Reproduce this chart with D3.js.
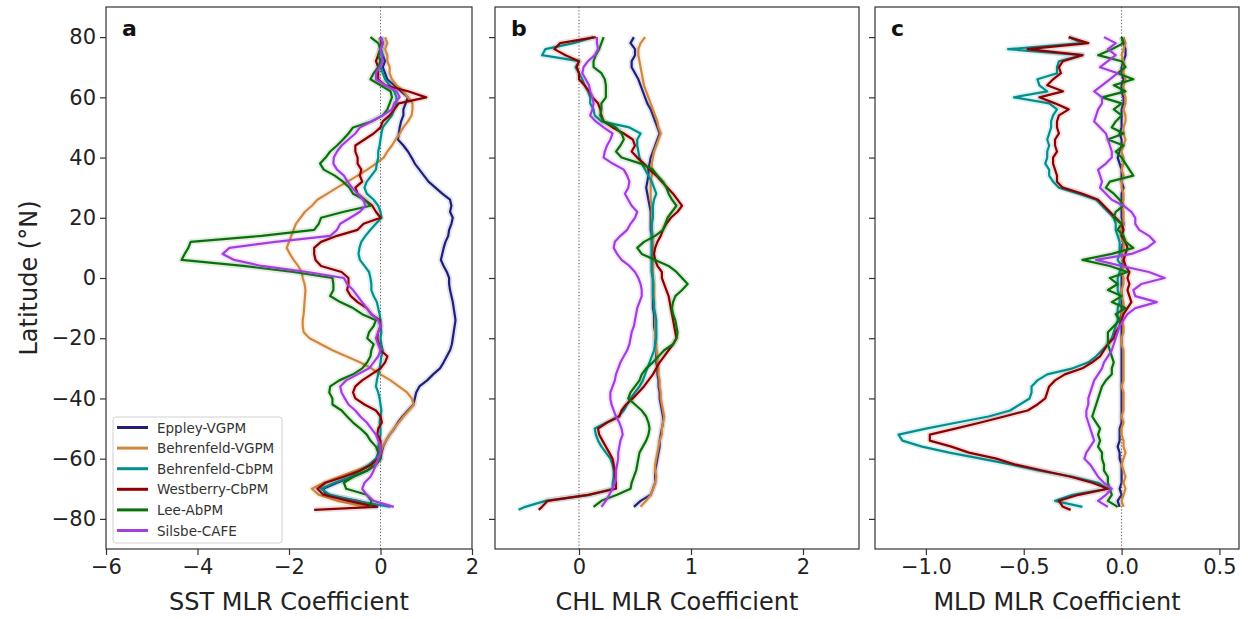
<!DOCTYPE html>
<html>
<head>
<meta charset="utf-8">
<script src="https://cdn.jsdelivr.net/npm/d3@7"></script>
<style>
  body { margin: 0; background: #fff; }
  svg { font-family: "DejaVu Sans", sans-serif; }
</style>
</head>
<body>
<svg id="chart" width="1248" height="619"></svg>
<script>
// latitude of every sample, north to south (deg N)
var lat = [80, 78, 76, 74, 72, 70, 68, 66, 64, 62,
           60, 58, 56, 54, 52, 50, 48, 46, 44, 42,
           40, 38, 36, 34, 32, 30, 28, 26, 24, 22,
           20, 18, 16, 14, 12, 10, 8, 6, 4, 2,
           0, -2, -4, -6, -8, -10, -12, -14, -16, -18,
           -20, -22, -24, -26, -28, -30, -32, -34, -36, -38,
           -40, -42, -44, -46, -48, -50, -52, -54, -56, -58,
           -60, -62, -64, -66, -68, -70, -72, -74, -76, -77];

var models = ["Eppley-VGPM", "Behrenfeld-VGPM", "Behrenfeld-CbPM", "Westberry-CbPM", "Lee-AbPM", "Silsbe-CAFE"];
var modelColors = ["#1f1f7a", "#d0883f", "#00908e", "#8b0000", "#0a700a", "#a33fe0"];

// ---- SST coefficients (panel a)
var sstEppley = [0.0, 0.05, 0.0, 0.05, 0.1, 0.05, 0.1, 0.15, 0.3, 0.45,
  0.6, 0.55, 0.5, 0.5, 0.45, 0.42, 0.4, 0.38, 0.5, 0.6,
  0.68, 0.75, 0.85, 0.95, 1.05, 1.2, 1.35, 1.52, 1.55, 1.52,
  1.58, 1.55, 1.5, 1.48, 1.42, 1.38, 1.35, 1.32, 1.38, 1.45,
  1.5, 1.5, 1.52, 1.55, 1.58, 1.6, 1.62, 1.64, 1.62, 1.6,
  1.58, 1.56, 1.52, 1.45, 1.38, 1.3, 1.15, 1.02, 0.85, 0.78,
  0.75, 0.72, 0.6, 0.48, 0.38, 0.3, 0.2, 0.12, 0.06, 0.02,
  0.0, -0.1, -0.3, -0.6, -0.95, -1.25, -1.2, -0.5, -0.05, null];
var sstBehrenfeldV = [0.1, 0.15, 0.1, 0.15, 0.15, 0.2, 0.2, 0.25, 0.35, 0.5,
  0.6, 0.7, 0.7, 0.68, 0.6, 0.5, 0.42, 0.33, 0.25, 0.15,
  0.07, -0.1, -0.29, -0.5, -0.72, -0.95, -1.16, -1.38, -1.5, -1.65,
  -1.75, -1.85, -1.9, -1.95, -2.0, -2.05, -1.98, -1.9, -1.8, -1.72,
  -1.7, -1.66, -1.64, -1.65, -1.66, -1.67, -1.68, -1.7, -1.7, -1.68,
  -1.55, -1.3, -1.05, -0.75, -0.45, -0.2, 0.0, 0.22, 0.4, 0.58,
  0.68, 0.73, 0.62, 0.5, 0.4, 0.29, 0.2, 0.12, 0.05, 0.0,
  -0.03, -0.2, -0.55, -0.9, -1.24, -1.5, -1.35, -0.95, -0.3, null];
var sstBehrenfeldC = [0.0, 0.05, 0.0, 0.05, 0.0, 0.0, 0.05, 0.1, 0.2, 0.3,
  0.35, 0.35, 0.3, 0.25, 0.15, 0.05, 0.02, 0.0, -0.02, -0.05,
  -0.05, -0.08, -0.1, -0.2, -0.3, -0.35, -0.3, -0.15, -0.05, 0.0,
  0.02, -0.1, -0.22, -0.33, -0.42, -0.46, -0.48, -0.45, -0.35, -0.25,
  -0.22, -0.2, -0.2, -0.15, -0.08, -0.05, -0.02, 0.0, 0.0, 0.02,
  0.0, 0.02, 0.05, 0.02, 0.0, -0.02, -0.05, -0.08, -0.1, -0.05,
  -0.02, 0.0, 0.02, 0.0, -0.02, 0.0, 0.0, -0.02, -0.05, -0.05,
  -0.1, -0.25, -0.45, -0.65, -1.0, -1.3, -1.1, -0.55, 0.22, null];
var sstWestberry = [0.0, 0.02, 0.0, -0.05, -0.1, -0.05, -0.05, -0.05, 0.1, 0.6,
  1.0, 0.4, 0.3, 0.2, 0.05, 0.0, -0.15, -0.35, -0.55, -0.55,
  -0.5, -0.5, -0.42, -0.45, -0.4, -0.55, -0.5, -0.35, -0.18, -0.1,
  0.0, -0.37, -0.5, -0.95, -1.3, -1.45, -1.45, -1.42, -1.3, -0.85,
  -0.7, -0.7, -0.73, -0.65, -0.5, -0.3, -0.2, -0.02, 0.0, -0.05,
  -0.07, -0.03, 0.0, 0.15, 0.1, 0.0, -0.2, -0.4, -0.55, -0.6,
  -0.55, -0.35, -0.1, 0.0, 0.03, -0.05, -0.07, 0.0, 0.0, 0.0,
  -0.05, -0.2, -0.45, -0.8, -1.2, -1.38, -1.25, -0.7, -0.1, -1.45];
var sstLee = [-0.22, -0.05, 0.0, -0.05, 0.0, -0.05, -0.15, -0.22, 0.0, 0.22,
  0.25, 0.2, 0.15, 0.05, -0.2, -0.6, -0.7, -0.82, -0.95, -1.1,
  -1.2, -1.32, -1.24, -1.0, -0.82, -0.68, -0.6, -0.35, -0.22, -0.8,
  -1.3, -1.35, -1.45, -2.6, -4.15, -4.2, -4.28, -4.35, -3.0, -1.9,
  -1.05, -1.03, -1.03, -1.1, -0.88, -0.6, -0.4, -0.1, -0.15, -0.25,
  -0.29, -0.15, -0.2, -0.22, -0.29, -0.4, -0.6, -0.9, -1.1, -1.12,
  -1.05, -1.05, -0.85, -0.73, -0.6, -0.44, -0.3, -0.22, -0.1, -0.05,
  0.0, -0.1, -0.3, -0.6, -0.8, -0.75, -0.3, -0.2, -0.22, null];
var sstSilsbe = [0.0, 0.05, 0.0, 0.02, 0.05, -0.02, -0.1, -0.1, 0.1, 0.35,
  0.42, 0.3, 0.25, 0.05, -0.2, -0.45, -0.55, -0.7, -0.85, -0.95,
  -1.02, -1.03, -0.95, -0.8, -0.72, -0.62, -0.5, -0.38, -0.33, -0.45,
  -0.66, -0.88, -0.95, -1.1, -2.3, -3.3, -3.45, -3.2, -2.6, -1.6,
  -0.8, -0.73, -0.6, -0.5, -0.4, -0.3, -0.2, -0.05, 0.0, -0.05,
  -0.1, -0.05, 0.0, -0.05, -0.15, -0.25, -0.5, -0.75, -0.88, -0.85,
  -0.78, -0.7, -0.55, -0.44, -0.3, -0.2, -0.1, -0.05, 0.0, 0.0,
  -0.05, -0.1, -0.15, -0.22, -0.35, -0.4, -0.3, -0.15, 0.29, null];

// ---- CHL coefficients (panel b)
var chlEppley = [0.49, 0.46, 0.5, 0.5, 0.47, 0.47, 0.5, 0.53, 0.55, 0.57,
  0.59, 0.61, 0.64, 0.66, 0.68, 0.7, 0.72, 0.7, 0.68, 0.66,
  0.64, 0.63, 0.62, 0.62, 0.61, 0.6, 0.61, 0.62, 0.63, 0.64,
  0.64, 0.64, 0.64, 0.65, 0.65, 0.65, 0.65, 0.65, 0.65, 0.65,
  0.66, 0.66, 0.66, 0.66, 0.66, 0.66, 0.67, 0.67, 0.67, 0.68,
  0.68, 0.68, 0.69, 0.69, 0.69, 0.7, 0.7, 0.71, 0.71, 0.72,
  0.72, 0.73, 0.74, 0.75, 0.75, 0.74, 0.73, 0.72, 0.72, 0.71,
  0.7, 0.69, 0.68, 0.68, 0.68, 0.66, 0.64, 0.55, 0.49, null];
var chlBehrenfeldV = [0.59, 0.55, 0.53, 0.53, 0.54, 0.55, 0.56, 0.57, 0.58, 0.6,
  0.62, 0.64, 0.66, 0.68, 0.7, 0.71, 0.73, 0.71, 0.69, 0.67,
  0.66, 0.65, 0.65, 0.65, 0.64, 0.64, 0.64, 0.64, 0.65, 0.65,
  0.65, 0.65, 0.65, 0.66, 0.66, 0.66, 0.66, 0.66, 0.66, 0.66,
  0.66, 0.67, 0.67, 0.67, 0.67, 0.67, 0.68, 0.68, 0.68, 0.68,
  0.68, 0.69, 0.69, 0.7, 0.7, 0.71, 0.71, 0.72, 0.72, 0.73,
  0.73, 0.74, 0.75, 0.76, 0.75, 0.74, 0.74, 0.72, 0.71, 0.7,
  0.69, 0.68, 0.68, 0.69, 0.68, 0.66, 0.64, 0.6, 0.55, null];
var chlBehrenfeldC = [0.13, -0.05, -0.3, -0.33, 0.0, -0.03, 0.0, 0.03, 0.05, 0.08,
  0.1, 0.1, 0.13, 0.14, 0.2, 0.45, 0.55, 0.52, 0.52, 0.53,
  0.54, 0.56, 0.59, 0.62, 0.65, 0.67, 0.69, 0.67, 0.66, 0.66,
  0.66, 0.65, 0.65, 0.65, 0.65, 0.65, 0.65, 0.65, 0.65, 0.65,
  0.66, 0.66, 0.66, 0.66, 0.67, 0.67, 0.68, 0.69, 0.69, 0.69,
  0.69, 0.68, 0.67, 0.65, 0.63, 0.61, 0.59, 0.57, 0.54, 0.5,
  0.46, 0.43, 0.4, 0.35, 0.25, 0.14, 0.15, 0.17, 0.2, 0.24,
  0.28, 0.3, 0.31, 0.31, 0.3, 0.3, 0.1, -0.3, -0.48, -0.54];
var chlWestberry = [0.15, -0.17, -0.22, -0.12, 0.0, -0.02, 0.0, 0.0, 0.05, 0.09,
  0.12, 0.17, 0.19, 0.2, 0.22, 0.3, 0.4, 0.48, 0.5, 0.47,
  0.52, 0.58, 0.63, 0.69, 0.74, 0.79, 0.84, 0.88, 0.92, 0.88,
  0.82, 0.78, 0.75, 0.73, 0.7, 0.68, 0.67, 0.68, 0.7, 0.74,
  0.74, 0.76, 0.78, 0.8, 0.81, 0.82, 0.83, 0.84, 0.85, 0.86,
  0.87, 0.84, 0.8, 0.76, 0.72, 0.69, 0.66, 0.62, 0.58, 0.53,
  0.48, 0.42, 0.38, 0.36, 0.25, 0.17, 0.18, 0.21, 0.24, 0.27,
  0.3, 0.31, 0.32, 0.32, 0.33, 0.33, 0.08, -0.28, -0.33, -0.36];
var chlLee = [0.22, 0.2, 0.18, 0.15, 0.13, 0.13, 0.2, 0.23, 0.24, 0.24,
  0.24, 0.2, 0.2, 0.19, 0.22, 0.33, 0.38, 0.4, 0.37, 0.33,
  0.38, 0.55, 0.66, 0.7, 0.75, 0.78, 0.8, 0.83, 0.87, 0.83,
  0.79, 0.77, 0.75, 0.68, 0.58, 0.52, 0.56, 0.68, 0.8, 0.87,
  0.92, 0.97, 0.92, 0.86, 0.84, 0.83, 0.84, 0.86, 0.87, 0.88,
  0.87, 0.84, 0.76, 0.71, 0.66, 0.6, 0.56, 0.54, 0.5, 0.46,
  0.44, 0.5, 0.56, 0.6, 0.62, 0.63, 0.62, 0.6, 0.57, 0.54,
  0.53, 0.52, 0.51, 0.49, 0.47, 0.46, 0.34, 0.2, 0.13, null];
var chlSilsbe = [0.16, 0.16, 0.17, 0.14, 0.08, 0.04, 0.03, 0.06, 0.09, 0.1,
  0.12, 0.13, 0.12, 0.1, 0.15, 0.22, 0.3, 0.28, 0.25, 0.23,
  0.22, 0.3, 0.4, 0.43, 0.45, 0.44, 0.41, 0.44, 0.47, 0.52,
  0.5, 0.46, 0.43, 0.37, 0.32, 0.31, 0.34, 0.38, 0.45, 0.5,
  0.53, 0.55, 0.56, 0.56, 0.54, 0.52, 0.51, 0.5, 0.49, 0.47,
  0.46, 0.45, 0.43, 0.4, 0.37, 0.35, 0.33, 0.32, 0.3, 0.28,
  0.28, 0.29, 0.31, 0.33, 0.36, 0.38, 0.39, 0.37, 0.36, 0.35,
  0.35, 0.34, 0.33, 0.33, 0.32, 0.3, 0.27, 0.24, 0.2, null];

// ---- MLD coefficients (panel c)
var mldEppley = [0.0, 0.01, 0.02, 0.02, 0.01, 0.0, 0.0, 0.01, 0.0, 0.0,
  0.01, 0.01, 0.0, 0.0, 0.0, 0.0, -0.01, 0.0, 0.0, -0.01,
  -0.02, -0.01, 0.0, 0.0, 0.0, 0.01, 0.0, 0.0, 0.0, 0.0,
  0.0, 0.01, 0.0, 0.0, 0.01, 0.0, 0.0, 0.01, 0.0, 0.0,
  0.0, 0.0, 0.0, 0.0, 0.0, 0.0, 0.0, -0.01, 0.0, 0.0,
  0.0, 0.0, 0.0, 0.0, 0.0, 0.0, 0.0, 0.0, 0.0, 0.0,
  0.0, 0.0, 0.0, 0.0, 0.0, -0.01, -0.01, -0.01, -0.02, -0.01,
  -0.01, 0.0, 0.0, 0.0, 0.0, -0.01, 0.0, -0.02, -0.01, null];
var mldBehrenfeldV = [0.01, 0.02, 0.01, 0.0, 0.01, 0.01, 0.01, 0.02, 0.01, 0.01,
  0.02, 0.02, 0.01, 0.02, 0.02, 0.01, 0.01, 0.02, 0.01, 0.0,
  0.01, 0.01, 0.0, 0.01, 0.0, 0.0, 0.01, 0.01, 0.0, 0.01,
  0.01, 0.01, 0.0, 0.0, 0.01, 0.01, 0.0, 0.01, 0.01, 0.0,
  0.01, 0.01, 0.0, 0.0, 0.01, 0.01, 0.0, 0.0, 0.01, 0.01,
  0.0, 0.0, 0.01, 0.01, 0.01, 0.01, 0.01, 0.01, 0.0, 0.01,
  0.01, 0.01, 0.01, 0.0, 0.01, 0.0, 0.0, 0.01, 0.01, 0.02,
  0.01, 0.0, 0.01, 0.02, 0.01, 0.02, 0.01, 0.0, 0.01, null];
var mldBehrenfeldC = [-0.27, -0.2, -0.58, -0.2, -0.32, -0.33, -0.33, -0.43, -0.42, -0.38,
  -0.55, -0.37, -0.33, -0.35, -0.36, -0.36, -0.37, -0.38, -0.37, -0.38,
  -0.38, -0.39, -0.37, -0.37, -0.35, -0.32, -0.22, -0.13, -0.1, -0.07,
  -0.04, -0.03, -0.03, -0.02, -0.01, -0.01, -0.01, -0.02, 0.0, -0.01,
  -0.02, -0.02, -0.02, -0.01, -0.01, -0.02, -0.02, -0.02, -0.03, -0.04,
  -0.05, -0.07, -0.1, -0.13, -0.17, -0.25, -0.38, -0.43, -0.46, -0.46,
  -0.47, -0.52, -0.57, -0.68, -0.84, -1.0, -1.14, -1.12, -1.02, -0.88,
  -0.72, -0.56, -0.42, -0.25, -0.12, -0.07, -0.25, -0.34, -0.2, null];
var mldWestberry = [-0.27, -0.17, -0.48, -0.2, -0.3, -0.32, -0.31, -0.35, -0.38, -0.3,
  -0.42, -0.34, -0.27, -0.32, -0.33, -0.33, -0.32, -0.34, -0.34, -0.33,
  -0.35, -0.35, -0.34, -0.33, -0.33, -0.3, -0.2, -0.12, -0.09, -0.06,
  -0.03, 0.0, 0.01, 0.0, 0.02, 0.03, 0.02, 0.01, 0.02, 0.04,
  0.03, 0.04, 0.03, 0.04, 0.05, 0.03, 0.01, 0.0, -0.01, -0.03,
  -0.04, -0.07, -0.09, -0.11, -0.15, -0.2, -0.29, -0.34, -0.37, -0.38,
  -0.39, -0.43, -0.48, -0.6, -0.72, -0.85, -0.98, -0.98, -0.87, -0.78,
  -0.64, -0.54, -0.4, -0.26, -0.15, -0.07, -0.22, -0.32, -0.3, -0.26];
var mldLee = [0.0, 0.01, -0.05, -0.12, 0.0, 0.02, -0.02, 0.06, -0.04, 0.02,
  -0.1, 0.0, -0.04, 0.0, -0.03, -0.05, 0.01, -0.07, 0.01, -0.03,
  0.0, 0.02, 0.04, 0.06, -0.06, -0.08, -0.04, -0.01, 0.01, -0.03,
  -0.04, 0.0, -0.02, 0.01, 0.02, 0.06, -0.05, -0.2, -0.06, 0.03,
  -0.06, -0.02, -0.07, 0.0, -0.05, 0.02, -0.03, -0.01, -0.04, -0.07,
  -0.07, -0.07, -0.06, -0.05, -0.04, -0.05, -0.05, -0.08, -0.1, -0.11,
  -0.12, -0.13, -0.14, -0.15, -0.13, -0.11, -0.12, -0.11, -0.12, -0.1,
  -0.1, -0.09, -0.09, -0.07, -0.07, -0.06, -0.05, -0.07, -0.02, null];
var mldSilsbe = [-0.09, -0.03, -0.07, -0.03, -0.07, -0.11, -0.02, -0.06, -0.1, -0.14,
  -0.1, -0.1, -0.12, -0.13, -0.14, -0.11, -0.08, -0.07, -0.06, -0.05,
  -0.05, -0.08, -0.12, -0.11, -0.1, -0.11, -0.08, -0.05, 0.01, 0.05,
  0.07, 0.07, 0.09, 0.14, 0.17, 0.13, 0.05, -0.13, 0.0, 0.14,
  0.22, 0.1, 0.06, 0.07, 0.18, 0.07, 0.03, 0.01, -0.01, -0.02,
  -0.03, -0.04, -0.05, -0.07, -0.09, -0.1, -0.12, -0.14, -0.15, -0.16,
  -0.17, -0.17, -0.18, -0.18, -0.17, -0.16, -0.15, -0.14, -0.16, -0.18,
  -0.19, -0.16, -0.14, -0.12, -0.09, -0.05, -0.08, -0.12, -0.07, null];

var latTicks = [-80, -60, -40, -20, 0, 20, 40, 60, 80];

var panels = [
  { letter: "a", label: "SST MLR Coefficient", left: 106, right: 472, domain: [-6, 2],
    ticks: [-6, -4, -2, 0, 2], fmt: d3.format("d"), yLabels: true,
    series: [sstEppley, sstBehrenfeldV, sstBehrenfeldC, sstWestberry, sstLee, sstSilsbe] },
  { letter: "b", label: "CHL MLR Coefficient", left: 495, right: 859, domain: [-0.75, 2.5],
    ticks: [0, 1, 2], fmt: d3.format("d"), yLabels: false,
    series: [chlEppley, chlBehrenfeldV, chlBehrenfeldC, chlWestberry, chlLee, chlSilsbe] },
  { letter: "c", label: "MLD MLR Coefficient", left: 875, right: 1239, domain: [-1.26, 0.6],
    ticks: [-1.0, -0.5, 0.0, 0.5], fmt: d3.format(".1f"), yLabels: false,
    series: [mldEppley, mldBehrenfeldV, mldBehrenfeldC, mldWestberry, mldLee, mldSilsbe] }
];

var svg = d3.select("#chart");
var plotTop = 7, plotBottom = 549;

var y = d3.scaleLinear().domain([-90, 90]).range([plotBottom, plotTop]);

panels.forEach(function (p) {
  var x = d3.scaleLinear().domain(p.domain).range([p.left, p.right]);
  var g = svg.append("g");

  // zero line
  g.append("line")
    .attr("x1", x(0)).attr("x2", x(0))
    .attr("y1", plotTop).attr("y2", plotBottom)
    .attr("stroke", "#555")
    .attr("stroke-width", 1)
    .attr("stroke-dasharray", "1.2,2");

  var clipId = "clip-" + p.letter;
  svg.append("clipPath").attr("id", clipId)
    .append("rect")
    .attr("x", p.left).attr("y", plotTop)
    .attr("width", p.right - p.left).attr("height", plotBottom - plotTop);

  var line = d3.line()
    .defined(function (d) { return d[1] != null; })
    .x(function (d) { return x(d[1]); })
    .y(function (d) { return y(d[0]); });

  var lines = g.append("g").attr("clip-path", "url(#" + clipId + ")");

  p.series.forEach(function (vals, i) {
    var pts = lat.map(function (l, k) { return [l, vals[k]]; });
    // soft band under each curve
    lines.append("path")
      .attr("d", line(pts))
      .attr("fill", "none")
      .attr("stroke", modelColors[i])
      .attr("stroke-opacity", 0.12)
      .attr("stroke-width", 6)
      .attr("stroke-linejoin", "round");
    lines.append("path")
      .attr("d", line(pts))
      .attr("fill", "none")
      .attr("stroke", modelColors[i])
      .attr("stroke-width", 2.2)
      .attr("stroke-linejoin", "round");
  });

  // axes
  var xAxis = d3.axisBottom(x).tickValues(p.ticks).tickFormat(p.fmt).tickSize(6).tickPadding(4);
  var gx = g.append("g").attr("transform", "translate(0," + plotBottom + ")").call(xAxis);
  gx.select(".domain").remove();
  gx.selectAll("text").attr("font-size", 21).attr("fill", "#222").attr("font-family", "DejaVu Sans");
  gx.selectAll("line").attr("stroke", "#333").attr("stroke-width", 1.2);

  var yAxis = d3.axisLeft(y).tickValues(latTicks).tickSize(6).tickPadding(4)
    .tickFormat(p.yLabels ? d3.format("d") : "");
  var gy = g.append("g").attr("transform", "translate(" + p.left + ",0)").call(yAxis);
  gy.select(".domain").remove();
  gy.selectAll("text").attr("font-size", 21).attr("fill", "#222").attr("font-family", "DejaVu Sans");
  gy.selectAll("line").attr("stroke", "#333").attr("stroke-width", 1.2);

  // frame
  g.append("rect")
    .attr("x", p.left).attr("y", plotTop)
    .attr("width", p.right - p.left).attr("height", plotBottom - plotTop)
    .attr("fill", "none")
    .attr("stroke", "#333")
    .attr("stroke-width", 1.2);

  // panel letter
  g.append("text")
    .attr("x", p.left + 16).attr("y", 36)
    .attr("font-size", 22).attr("font-weight", "bold")
    .attr("fill", "#111")
    .text(p.letter);

  // x label
  g.append("text")
    .attr("x", (p.left + p.right) / 2).attr("y", 610)
    .attr("text-anchor", "middle")
    .attr("font-size", 24).attr("fill", "#222")
    .text(p.label);
});

// y label
svg.append("text")
  .attr("transform", "translate(37," + ((plotTop + plotBottom) / 2) + ") rotate(-90)")
  .attr("text-anchor", "middle")
  .attr("font-size", 24).attr("fill", "#222")
  .text("Latitude (°N)");

// legend
var legend = svg.append("g").attr("transform", "translate(113,417)");
legend.append("rect")
  .attr("width", 169).attr("height", 126)
  .attr("rx", 3)
  .attr("fill", "#fff").attr("fill-opacity", 0.85)
  .attr("stroke", "#d0d0d0");

models.forEach(function (m, i) {
  var row = legend.append("g").attr("transform", "translate(0," + (10.5 + i * 20.6) + ")");
  row.append("line")
    .attr("x1", 4).attr("x2", 35)
    .attr("stroke", modelColors[i]).attr("stroke-width", 3);
  row.append("text")
    .attr("x", 44).attr("y", 5)
    .attr("font-size", 13.5).attr("fill", "#333")
    .text(m);
});
</script>
</body>
</html>
